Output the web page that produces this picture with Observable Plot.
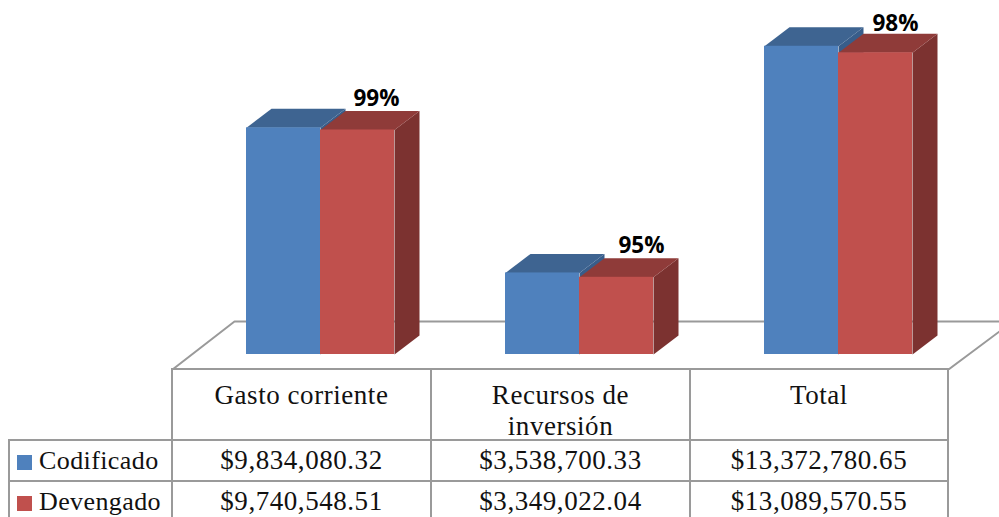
<!DOCTYPE html>
<html><head><meta charset="utf-8">
<script src="https://cdn.jsdelivr.net/npm/d3@7"></script>
<script src="https://cdn.jsdelivr.net/npm/@observablehq/plot@0.6"></script>
<style>
html,body{margin:0;padding:0;background:#fff;width:999px;height:517px;overflow:hidden}
#chart{position:absolute;left:0;top:0}
#chart svg{display:block}
table{position:absolute;left:8px;top:368px;border-collapse:collapse;table-layout:fixed;
  font-family:"Liberation Serif",serif;font-size:27px;color:#111;letter-spacing:.55px}
td{border:2px solid #9a9a9a;padding:0;text-align:center;overflow:hidden;white-space:nowrap}
tr.head td{vertical-align:top}
tr.head td div{height:69px;box-sizing:border-box;padding-top:10px;line-height:31px;overflow:visible}
tr.val td{height:41px;line-height:29px;box-sizing:border-box;padding-bottom:1px}
td.blank{border-left:none;border-top:none}
td.name{text-align:left;padding-left:7px;box-sizing:border-box;font-size:26px;letter-spacing:.4px}
.sw{display:inline-block;width:15px;height:15px;margin-right:7px;vertical-align:-1px}
</style></head><body>
<div id="chart"></div>
<script>
const categories = ["Gasto corriente", "Recursos de\ninversión", "Total"];
const seriesNames = ["Codificado", "Devengado"];
const codificado = [9834080.32, 3538700.33, 13372780.65];
const devengado = [9740548.51, 3349022.04, 13089570.55];
const percent = ["99%", "95%", "98%"];
const colors = {front: ["#4F81BD", "#C0504D"], top: ["#3E6491", "#8F3B39"], side: ["#385D8A", "#7C3230"]};

// Layout, in scale units: 1 x unit = one category, y in dollars
const PX = 259, PY = 1e6 / 23.05;
const barW = 74 / PX, depthX = 25 / PX, depthY = 19 * PY;
const labelShiftX = [19 / PX, 25 / PX, 20 / PX];
const labelShiftY = [31 * PY, 32 * PY, 29 * PY];
const floorFrontY = -15 * PY, floorBackY = 33 * PY;
const floorL = -148 / PX, floorBL = -86 / PX, floorR = 628 / PX, floorEnd = 679 / PX;

const idx = categories.map((_, i) => i);
const bars = (vals, s) => idx.map(i => ({i, s, x1: i + (s - 1) * barW, x2: i + s * barW, v: vals[i]}));
const blue = bars(codificado, 0), red = bars(devengado, 1);

const poly = (rows, pts) => rows.flatMap(r => pts(r).map(([x, y]) => ({id: r.i, x, y})));
const sidePts = r => [[r.x2, 0], [r.x2 + depthX, depthY], [r.x2 + depthX, r.v + depthY], [r.x2, r.v]];
const topPts = r => [[r.x1, r.v], [r.x1 + depthX, r.v + depthY], [r.x2 + depthX, r.v + depthY], [r.x2, r.v]];

const face = (rows, pts, fill) => Plot.line(poly(rows, pts), {x: "x", y: "y", z: "id", fill, stroke: "none"});
const front = (rows, fill) => Plot.rect(rows, {x1: "x1", x2: "x2", y1: 0, y2: "v", fill});

const floorEdge = [{x: floorL, y: floorFrontY}, {x: floorBL, y: floorBackY}, {x: floorEnd, y: floorBackY}];
const floorEdgeR = [{x: floorR, y: floorFrontY}, {x: floorEnd, y: floorFrontY + 38 * PY}];
const line = d => Plot.line(d, {x: "x", y: "y", stroke: "#9a9a9a", strokeWidth: 2});

const plot = Plot.plot({
  width: 999, height: 370,
  marginTop: 0, marginBottom: 0, marginLeft: 0, marginRight: 0,
  x: {domain: [-320 / PX, 679 / PX], range: [0, 999], axis: null},
  y: {domain: [-16 * PY, 354 * PY], range: [370, 0], axis: null},
  style: {background: "transparent"},
  marks: [
    line(floorEdge), line(floorEdgeR),
    face(blue, sidePts, colors.side[0]), face(blue, topPts, colors.top[0]), front(blue, colors.front[0]),
    face(red, sidePts, colors.side[1]), face(red, topPts, colors.top[1]), front(red, colors.front[1]),
    Plot.text(red, {
      x: d => d.i + barW / 2 + labelShiftX[d.i],
      y: d => d.v + labelShiftY[d.i],
      text: d => percent[d.i],
      fontFamily: "Open Sans", fontWeight: "bold", fontSize: 22.5, fill: "#000", textAnchor: "middle", lineAnchor: "middle"
    })
  ]
});
document.getElementById("chart").append(plot);

const fmt = v => "$" + d3.format(",.2f")(v);
const table = document.createElement("table");
const colW = [163, 259, 259, 258];
table.innerHTML = `<colgroup>${colW.map(w => `<col style="width:${w}px">`).join("")}</colgroup>` +
  `<tr class="head"><td class="blank"><div></div></td>${categories.map(c => `<td><div>${c.replace("\n", "<br>")}</div></td>`).join("")}</tr>` +
  [codificado, devengado].map((vals, s) =>
    `<tr class="val"><td class="name"><span class="sw" style="background:${colors.front[s]}"></span>${seriesNames[s]}</td>${vals.map(v => `<td>${fmt(v)}</td>`).join("")}</tr>`
  ).join("");
document.body.append(table);
</script>
</body></html>
